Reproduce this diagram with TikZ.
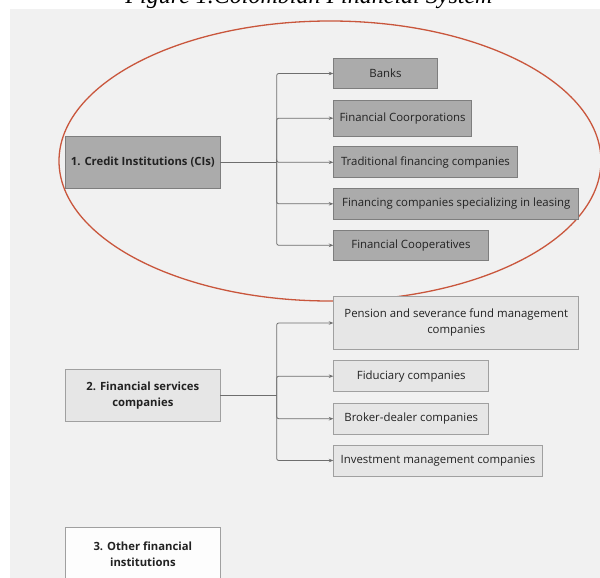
\documentclass[tikz,border=0pt]{standalone}
\usepackage{fontspec}
\setmainfont{Open Sans}
\newfontfamily\capfont{Liberation Serif}
\usetikzlibrary{arrows.meta}
\definecolor{bgc}{HTML}{F1F1F1}
\definecolor{darkfill}{HTML}{ABABAB}
\definecolor{darkline}{HTML}{7E7E7E}
\definecolor{lightfill}{HTML}{E6E6E6}
\definecolor{lightline}{HTML}{A0A0A0}
\definecolor{whitefill}{HTML}{FDFDFD}
\definecolor{ellc}{HTML}{C9563C}
\definecolor{conn}{HTML}{6E6E6E}
\definecolor{txt}{HTML}{222222}
\tikzset{
  base/.style={draw, line width=0.9pt, inner sep=0pt, align=center, text=txt,
    font=\fontsize{11.4}{16}\selectfont},
  darkbox/.style={base, fill=darkfill, draw=darkline},
  lightbox/.style={base, fill=lightfill, draw=lightline},
  whitebox/.style={base, fill=whitefill, draw=lightline},
  catbox/.style={font=\fontsize{11.3}{16}\selectfont\bfseries, minimum width=154.3pt},
  branch/.style={draw=conn, line width=0.8pt, rounded corners=2pt,
    -{Stealth[length=4.5pt,width=3.5pt]}},
  stem/.style={draw=conn, line width=0.8pt},
}
\begin{document}
\begin{tikzpicture}[x=1pt,y=-1pt]
\clip (0,0) rectangle (600,578);
\fill[white] (0,0) rectangle (600,578);
\node[anchor=base, font=\capfont\itshape\fontsize{24}{28}\selectfont] (cap) at (309,4) {Figure 1.Colombian Financial System};
\fill[bgc] (9.5,9.5) rectangle (600,578);
\draw[ellc, line width=1.3pt] (330,161) ellipse [x radius=271, y radius=140];

% group 1
\node[darkbox, catbox, minimum height=51.3pt] (b1) at (142.85,162.3) {1. Credit Institutions (CIs)};
\node[darkbox, anchor=west, minimum width=103.4pt, minimum height=30.7pt] (c11) at (333.3,73.5) {Banks};
\node[darkbox, anchor=west, minimum width=137.7pt, minimum height=36pt] (c12) at (333.3,118.2) {Financial Coorporations};
\node[darkbox, anchor=west, minimum width=183.4pt, minimum height=31pt] (c13) at (333.3,162.3) {Traditional financing companies};
\node[darkbox, anchor=west, minimum width=245pt, minimum height=31pt] (c14) at (333.3,203.8) {Financing companies specializing in leasing};
\node[darkbox, anchor=west, minimum width=154.4pt, minimum height=30.7pt] (c15) at (333.3,245.3) {Financial Cooperatives};
\coordinate (t1) at (276.7,162.3);
\draw[stem] (b1.east) -- (t1);
\foreach \c in {c11,c12,c13,c14,c15} \draw[branch] (t1) |- (\c.west);

% group 2
\node[lightbox, catbox, minimum height=52.4pt] (b2) at (142.85,395.5) {2. Financial services\\companies};
\node[lightbox, anchor=west, minimum width=245pt, minimum height=52.6pt] (c21) at (333.3,323) {Pension and severance fund management\\companies};
\node[lightbox, anchor=west, minimum width=155pt, minimum height=31pt] (c22) at (333.3,376.2) {Fiduciary companies};
\node[lightbox, anchor=west, minimum width=155pt, minimum height=30.7pt] (c23) at (333.3,418.7) {Broker-dealer companies};
\node[lightbox, anchor=west, minimum width=208.4pt, minimum height=31pt] (c24) at (333.3,460.5) {Investment management companies};
\coordinate (t2) at (276.7,395.5);
\draw[stem] (b2.east) -- (t2);
\foreach \c in {c21,c22,c23,c24} \draw[branch] (t2) |- (\c.west);

% group 3
\node[whitebox, catbox, minimum height=52.6pt] (b3) at (142.85,554) {3. Other financial\\institutions};
\end{tikzpicture}
\end{document}
